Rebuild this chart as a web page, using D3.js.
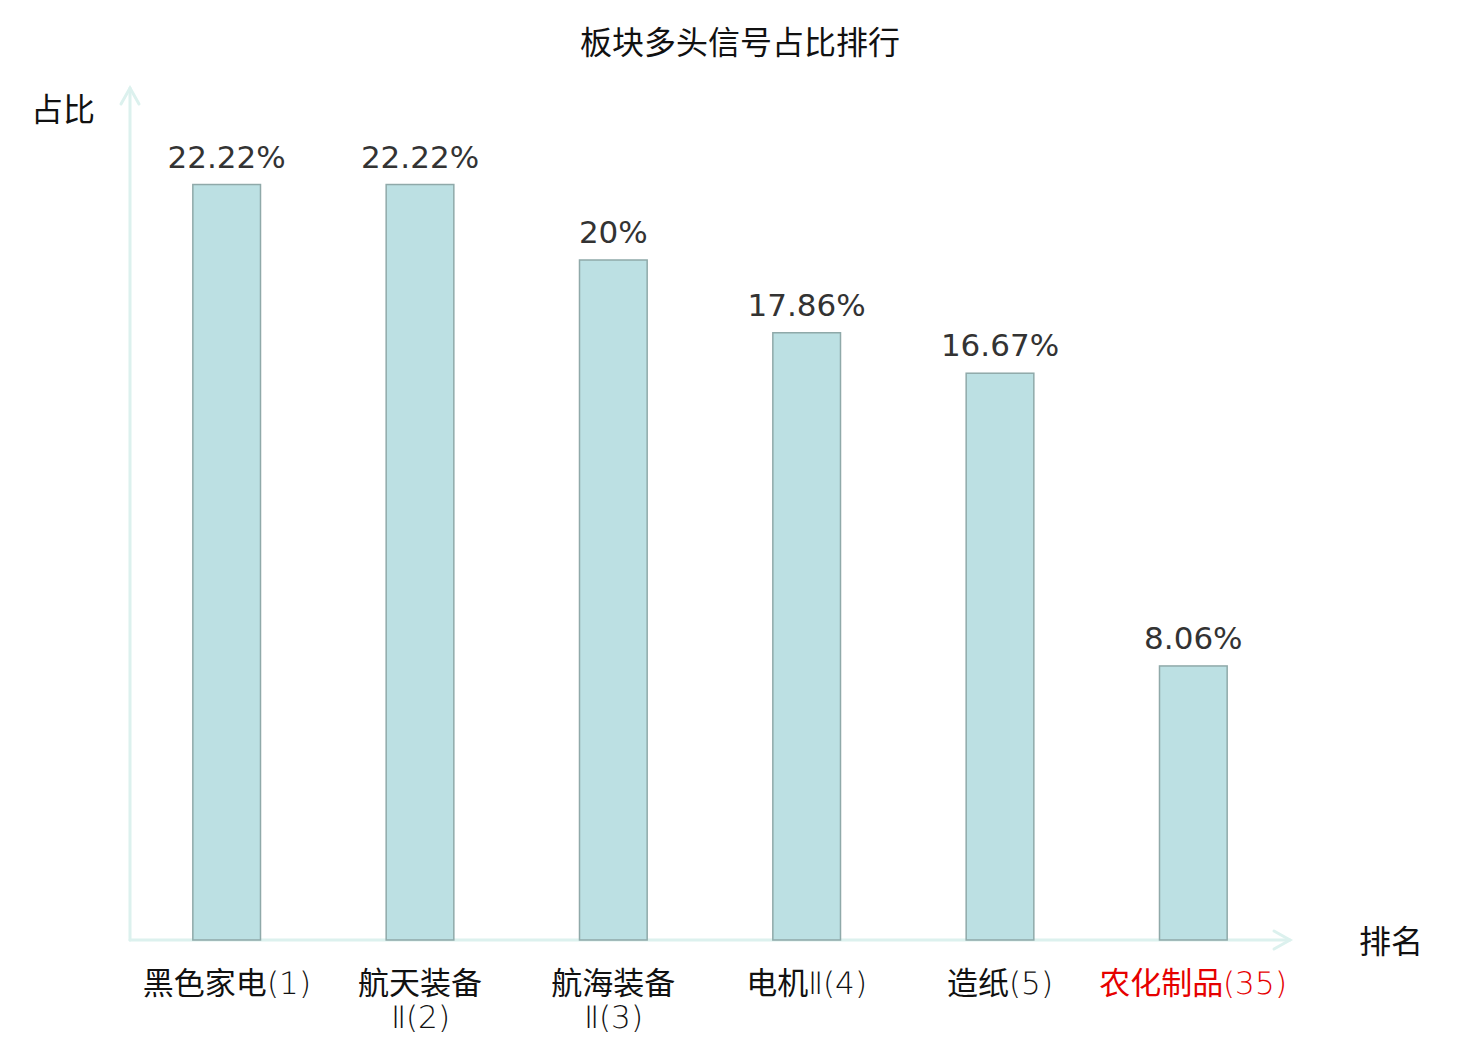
<!DOCTYPE html>
<html>
<head>
<meta charset="utf-8">
<script src="https://cdn.jsdelivr.net/npm/d3@7"></script>
<style>
  body { margin: 0; background: #fff; }
  svg { display: block; }
  /* thin latin glyphs, regular CJK glyphs in the category labels */
  @font-face {
    font-family: "CatLatin";
    src: local("DejaVu Sans ExtraLight"), local("DejaVuSans-ExtraLight");
    unicode-range: U+0020-007F, U+2160-216F;
  }
</style>
</head>
<body>
<svg width="1480" height="1040"></svg>
<script>
// chart data
const categories = ["黑色家电(1)", "航天装备Ⅱ(2)", "航海装备Ⅱ(3)", "电机Ⅱ(4)", "造纸(5)", "农化制品(35)"];
const shares = [22.22, 22.22, 20, 17.86, 16.67, 8.06];
const highlight = ["农化制品(35)"];

const title = "板块多头信号占比排行";
const yName = "占比";
const xName = "排名";

const cjk = "'Noto Sans CJK SC', 'Noto Sans', sans-serif";
const axisColor = "#dcf1ee";

const origin = { x: 130, y: 940 },
      xEnd = 1290,
      yTop = 88;

const svg = d3.select("svg");

const x = d3.scaleBand()
  .domain(categories)
  .range([origin.x, xEnd])
  .paddingInner(0.65)
  .paddingOuter(0.325);

const y = d3.scaleLinear()
  .domain([0, 25])
  .range([origin.y, 90]);

// title
svg.append("text")
  .attr("x", 740)
  .attr("y", 54)
  .attr("text-anchor", "middle")
  .style("font-family", cjk)
  .style("font-size", "32px")
  .style("fill", "#111")
  .text(title);

// axes with arrow heads
const axes = svg.append("g")
  .attr("stroke", axisColor)
  .attr("stroke-width", 3)
  .attr("fill", "none")
  .attr("stroke-linecap", "round");

axes.append("line")
  .attr("x1", origin.x).attr("y1", origin.y)
  .attr("x2", origin.x).attr("y2", yTop);
axes.append("path")
  .attr("d", `M${origin.x - 9},${yTop + 16}L${origin.x},${yTop}L${origin.x + 9},${yTop + 16}`);

axes.append("line")
  .attr("x1", origin.x).attr("y1", origin.y)
  .attr("x2", xEnd).attr("y2", origin.y);
axes.append("path")
  .attr("d", `M${xEnd - 16},${origin.y - 9}L${xEnd},${origin.y}L${xEnd - 16},${origin.y + 9}`);

// axis names
svg.append("text")
  .attr("x", 63)
  .attr("y", 121)
  .attr("text-anchor", "middle")
  .style("font-family", cjk)
  .style("font-size", "32px")
  .style("fill", "#111")
  .text(yName);

svg.append("text")
  .attr("x", 1391)
  .attr("y", 953)
  .attr("text-anchor", "middle")
  .style("font-family", cjk)
  .style("font-size", "32px")
  .style("fill", "#111")
  .text(xName);

// bars
svg.selectAll(".bar")
  .data(categories)
  .enter()
  .append("rect")
  .attr("class", "bar")
  .attr("x", d => x(d))
  .attr("width", x.bandwidth())
  .attr("y", (d, i) => y(shares[i]))
  .attr("height", (d, i) => y(0) - y(shares[i]))
  .attr("fill", "#bce0e3")
  .attr("stroke", "#8fa9a9")
  .attr("stroke-width", 1.5);

// value labels
svg.selectAll(".value")
  .data(categories)
  .enter()
  .append("text")
  .attr("class", "value")
  .attr("x", d => x(d) + x.bandwidth() / 2)
  .attr("y", (d, i) => y(shares[i]) - 17)
  .attr("text-anchor", "middle")
  .style("font-family", "'DejaVu Sans', sans-serif")
  .style("font-size", "31px")
  .style("fill", "#333")
  .text((d, i) => shares[i] + "%");

// category labels, long names break before the roman numeral
function labelLines(name) {
  const k = name.indexOf("Ⅱ");
  return k >= 4 ? [name.slice(0, k), name.slice(k)] : [name];
}

const labels = svg.selectAll(".cat")
  .data(categories)
  .enter()
  .append("text")
  .attr("class", "cat")
  .attr("text-anchor", "middle")
  .style("font-family", "CatLatin, " + cjk)
  .style("font-size", "31px")
  .style("fill", d => highlight.includes(d) ? "#e60000" : "#111");

labels.selectAll("tspan")
  .data(d => labelLines(d).map(t => ({ t, cx: x(d) + x.bandwidth() / 2 })))
  .enter()
  .append("tspan")
  .attr("x", d => d.cx)
  .attr("y", (d, i) => 994 + i * 34)
  .text(d => d.t);
</script>
</body>
</html>
